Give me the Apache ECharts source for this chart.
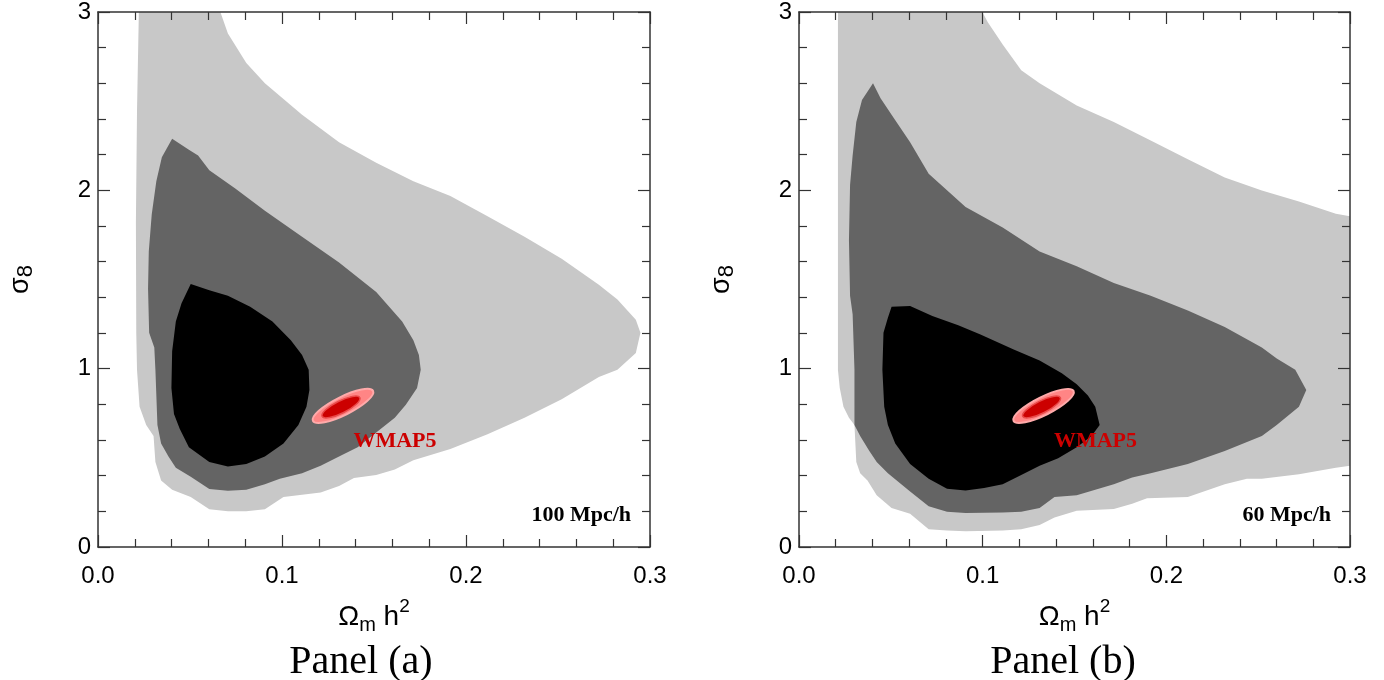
<!DOCTYPE html>
<html><head><meta charset="utf-8">
<script src="https://cdn.jsdelivr.net/npm/echarts@6/dist/echarts.min.js"></script>
<style>html,body{margin:0;padding:0;background:#fff}#c{width:1384px;height:680px}</style>
</head><body><div id="c"></div>
<script>
// ---- tick labels / text ----
const xTickLabels = ['0.0', '0.1', '0.2', '0.3'];
const yTickLabels = ['0', '1', '2', '3'];
const panelNames = ['Panel (a)', 'Panel (b)'];
const scaleLabels = ['100 Mpc/h', '60 Mpc/h'];
const wmapLabel = 'WMAP5';
const wmapLabelAt = [0.1614, 0.59];

// ---- Panel (a) contours [Omega_m h^2, sigma_8] ----
const panelA_outer = [
  [0.0222,3.0],[0.0212,2.445],[0.0206,1.823],[0.0208,1.202],[0.0212,0.994],[0.0226,0.787],
  [0.0262,0.684],[0.0302,0.622],[0.0312,0.477],[0.0343,0.373],[0.0403,0.321],[0.0504,0.280],
  [0.0605,0.211],[0.0706,0.201],[0.0806,0.201],[0.0907,0.211],[0.1008,0.280],[0.1210,0.305],
  [0.1310,0.342],[0.1391,0.387],[0.1512,0.404],[0.1613,0.435],[0.1714,0.487],[0.1915,0.549],
  [0.2117,0.632],[0.2318,0.725],[0.2520,0.829],[0.2722,0.953],[0.2823,0.994],[0.2923,1.088],
  [0.2948,1.202],[0.2923,1.274],[0.2823,1.388],[0.2722,1.471],[0.2520,1.616],[0.2318,1.740],
  [0.2117,1.854],[0.1915,1.968],[0.1714,2.051],[0.1512,2.155],[0.1310,2.269],[0.1109,2.424],
  [0.0907,2.600],[0.0806,2.714],[0.0706,2.880],[0.0665,3.0]
];
const panelA_mid = [
  [0.0403,2.289],[0.0347,2.186],[0.0317,2.051],[0.0292,1.865],[0.0276,1.657],[0.0272,1.450],
  [0.0278,1.202],[0.0306,1.119],[0.0312,0.994],[0.0323,0.684],[0.0343,0.580],[0.0383,0.508],
  [0.0423,0.445],[0.0504,0.394],[0.0605,0.325],[0.0706,0.315],[0.0806,0.321],[0.0907,0.352],
  [0.0988,0.383],[0.1109,0.414],[0.1210,0.456],[0.1310,0.508],[0.1411,0.559],[0.1512,0.642],
  [0.1613,0.725],[0.1673,0.798],[0.1734,0.891],[0.1754,0.994],[0.1744,1.077],[0.1714,1.160],
  [0.1653,1.264],[0.1512,1.430],[0.1310,1.595],[0.1109,1.740],[0.0907,1.885],[0.0746,2.010],
  [0.0605,2.113],[0.0544,2.196],[0.0494,2.227]
];
const panelA_inner = [
  [0.0504,1.475],[0.0454,1.367],[0.0423,1.264],[0.0403,1.098],[0.0399,0.891],[0.0413,0.746],
  [0.0444,0.663],[0.0494,0.559],[0.0605,0.477],[0.0706,0.452],[0.0806,0.466],[0.0907,0.508],
  [0.1008,0.580],[0.1089,0.684],[0.1133,0.787],[0.1149,0.881],[0.1145,0.994],[0.1109,1.077],
  [0.1048,1.160],[0.0948,1.264],[0.0827,1.347],[0.0706,1.409],[0.0605,1.440]
];

// ---- Panel (b) contours ----
const panelB_outer = [
  [0.0212,3.0],[0.0212,0.994],[0.0222,0.891],[0.0242,0.787],[0.0272,0.725],[0.0302,0.684],
  [0.0312,0.477],[0.0333,0.414],[0.0373,0.373],[0.0423,0.290],[0.0504,0.218],[0.0605,0.186],
  [0.0706,0.099],[0.0806,0.093],[0.0907,0.089],[0.1109,0.093],[0.1210,0.099],[0.1310,0.124],
  [0.1391,0.166],[0.1512,0.203],[0.1714,0.213],[0.1814,0.242],[0.1895,0.273],[0.2117,0.280],
  [0.2318,0.352],[0.2439,0.383],[0.2520,0.383],[0.2722,0.408],[0.2923,0.445],[0.3,0.456],
  [0.3,1.854],[0.2923,1.869],[0.2722,1.937],[0.2520,1.999],[0.2318,2.072],[0.2117,2.175],
  [0.1915,2.279],[0.1714,2.383],[0.1512,2.476],[0.1310,2.600],[0.1210,2.673],[0.1109,2.818],
  [0.1028,2.942],[0.0998,3.0]
];
const panelB_mid = [
  [0.0403,2.600],[0.0343,2.507],[0.0312,2.383],[0.0292,2.196],[0.0278,2.030],[0.0272,1.720],
  [0.0278,1.409],[0.0292,1.305],[0.0302,0.994],[0.0302,0.684],[0.0333,0.622],[0.0383,0.539],
  [0.0423,0.477],[0.0484,0.414],[0.0605,0.311],[0.0706,0.228],[0.0806,0.197],[0.0907,0.191],
  [0.1109,0.193],[0.1210,0.197],[0.1310,0.218],[0.1391,0.280],[0.1512,0.290],[0.1613,0.321],
  [0.1714,0.352],[0.1814,0.390],[0.1915,0.414],[0.2117,0.466],[0.2318,0.539],[0.2520,0.622],
  [0.2601,0.684],[0.2722,0.787],[0.2762,0.881],[0.2702,0.994],[0.2601,1.057],[0.2520,1.119],
  [0.2318,1.233],[0.2117,1.326],[0.1915,1.409],[0.1714,1.481],[0.1512,1.575],[0.1310,1.657],
  [0.1109,1.792],[0.0907,1.906],[0.0706,2.093],[0.0605,2.269],[0.0504,2.424],[0.0444,2.517]
];
const panelB_inner = [
  [0.0504,1.347],[0.0605,1.351],[0.0726,1.295],[0.0867,1.243],[0.0988,1.191],[0.1169,1.108],
  [0.1310,1.046],[0.1431,0.974],[0.1512,0.912],[0.1573,0.849],[0.1613,0.787],[0.1637,0.684],
  [0.1593,0.622],[0.1512,0.559],[0.1411,0.497],[0.1310,0.456],[0.1210,0.404],[0.1109,0.352],
  [0.1008,0.331],[0.0907,0.317],[0.0806,0.327],[0.0706,0.383],[0.0605,0.466],[0.0524,0.580],
  [0.0484,0.684],[0.0464,0.787],[0.0454,0.994],[0.0460,1.202],[0.0484,1.285]
];

// ---- WMAP5 ellipses: major-axis end points (data) ----
const wmapOuterAxis = [[0.1168,0.707],[0.1495,0.875]];
const wmapInnerAxis = [[0.1218,0.732],[0.1423,0.838]];

const C_LIGHT = '#c8c8c8', C_MID = '#646464', C_DARK = '#000000';
const AX = '#333333';
const GRIDS = [
  {left: 98, top: 12, width: 552, height: 535},
  {left: 799, top: 12, width: 551, height: 535}
];

function polySeries(pts, color, gi) {
  return {
    type: 'custom', xAxisIndex: gi * 2, yAxisIndex: gi * 2, silent: true, z: 2,
    data: pts, encode: {x: 0, y: 1},
    renderItem: function (params, api) {
      if (params.dataIndex !== 0) return null;
      return {type: 'polygon', shape: {points: pts.map(p => api.coord(p))}, style: {fill: color}};
    }
  };
}
function ellipseOf(api, ax, ratio, style) {
  const a = api.coord(ax[0]), b = api.coord(ax[1]);
  const cx = (a[0] + b[0]) / 2, cy = (a[1] + b[1]) / 2;
  const rx = Math.hypot(b[0] - a[0], b[1] - a[1]) / 2;
  const rot = Math.atan2(-(b[1] - a[1]), b[0] - a[0]);
  return {type: 'ellipse', x: cx, y: cy, rotation: rot, shape: {cx: 0, cy: 0, rx: rx, ry: rx * ratio}, style: style};
}
function wmapSeries(gi) {
  return {
    type: 'custom', xAxisIndex: gi * 2, yAxisIndex: gi * 2, silent: true, z: 5,
    data: [wmapLabelAt], encode: {x: 0, y: 1},
    renderItem: function (params, api) {
      const lp = api.coord(wmapLabelAt);
      return {type: 'group', children: [
        ellipseOf(api, wmapOuterAxis, 0.27, {fill: '#ff8585', stroke: '#ffaaaa', lineWidth: 2}),
        ellipseOf(api, wmapInnerAxis, 0.29, {fill: '#cc0000', stroke: '#e84a4a', lineWidth: 1.5}),
        {type: 'text', x: lp[0], y: lp[1], style: {text: wmapLabel, fill: '#cc0000',
          font: 'bold 22px "Liberation Serif"', align: 'center', verticalAlign: 'middle',
          textAlign: 'center', textVerticalAlign: 'middle'}}
      ]};
    }
  };
}

function xAxes(gi) {
  const base = {
    type: 'value', gridIndex: gi, min: 0, max: 0.3, interval: 0.1, z: 10,
    axisLine: {show: true, onZero: false, lineStyle: {color: AX, width: 1.5}},
    axisTick: {show: true, inside: true, length: 12, lineStyle: {color: AX, width: 1.2}},
    minorTick: {show: true, splitNumber: 5, length: 8, lineStyle: {color: AX, width: 1.2}},
    splitLine: {show: false}
  };
  return [
    Object.assign({}, base, {position: 'bottom',
      axisLabel: {margin: 17, color: '#000', fontSize: 24, fontFamily: 'Liberation Sans',
        formatter: v => xTickLabels[Math.round(v * 10)]},
      name: '{a|Ω}{s|m}{a| h}{p|2}', nameLocation: 'middle', nameGap: 50,
      nameTextStyle: {rich: {
        a: {fontSize: 28, fontFamily: 'Liberation Sans', color: '#000', verticalAlign: 'bottom', lineHeight: 34},
        s: {fontSize: 20, fontFamily: 'Liberation Sans', color: '#000', verticalAlign: 'bottom', padding: [0, 0, -4, 0], lineHeight: 34},
        p: {fontSize: 19, fontFamily: 'Liberation Sans', color: '#000', verticalAlign: 'top', lineHeight: 34}
      }}
    }),
    Object.assign({}, base, {position: 'top', axisLabel: {show: false}})
  ];
}
function yAxes(gi) {
  const base = {
    type: 'value', gridIndex: gi, min: 0, max: 3, interval: 1, z: 10,
    axisLine: {show: true, onZero: false, lineStyle: {color: AX, width: 1.5}},
    axisTick: {show: true, inside: true, length: 12, lineStyle: {color: AX, width: 1.2}},
    minorTick: {show: true, splitNumber: 5, length: 8, lineStyle: {color: AX, width: 1.2}},
    splitLine: {show: false}
  };
  return [
    Object.assign({}, base, {position: 'left',
      axisLabel: {margin: 7, color: '#000', fontSize: 24, fontFamily: 'Liberation Sans',
        formatter: v => yTickLabels[Math.round(v)]},
      name: '{a|σ}{s|8}', nameLocation: 'middle', nameGap: 64, nameRotate: 90,
      nameTextStyle: {rich: {
        a: {fontSize: 27, fontFamily: 'Liberation Sans', color: '#000', verticalAlign: 'bottom', lineHeight: 32},
        s: {fontSize: 22, fontFamily: 'Liberation Sans', color: '#000', verticalAlign: 'bottom', padding: [0, 0, -3, 0], lineHeight: 32}
      }}
    }),
    Object.assign({}, base, {position: 'right', axisLabel: {show: false}})
  ];
}

const chart = echarts.init(document.getElementById('c'), null, {renderer: 'canvas'});
chart.setOption({
  animation: false,
  backgroundColor: '#ffffff',
  grid: GRIDS,
  xAxis: [].concat(xAxes(0), xAxes(1)),
  yAxis: [].concat(yAxes(0), yAxes(1)),
  series: [
    polySeries(panelA_outer, C_LIGHT, 0),
    polySeries(panelA_mid, C_MID, 0),
    polySeries(panelA_inner, C_DARK, 0),
    wmapSeries(0),
    polySeries(panelB_outer, C_LIGHT, 1),
    polySeries(panelB_mid, C_MID, 1),
    polySeries(panelB_inner, C_DARK, 1),
    wmapSeries(1)
  ],
  graphic: [
    {type: 'text', x: 361, y: 662, style: {text: panelNames[0], fill: '#000', font: '40px "Liberation Serif"', align: 'center', verticalAlign: 'middle', textAlign: 'center', textVerticalAlign: 'middle'}},
    {type: 'text', x: 1063, y: 662, style: {text: panelNames[1], fill: '#000', font: '40px "Liberation Serif"', align: 'center', verticalAlign: 'middle', textAlign: 'center', textVerticalAlign: 'middle'}},
    {type: 'text', x: 631, y: 515, z: 20, style: {text: scaleLabels[0], fill: '#000', font: 'bold 22px "Liberation Serif"', align: 'right', verticalAlign: 'middle', textAlign: 'right', textVerticalAlign: 'middle'}},
    {type: 'text', x: 1331, y: 515, z: 20, style: {text: scaleLabels[1], fill: '#000', font: 'bold 22px "Liberation Serif"', align: 'right', verticalAlign: 'middle', textAlign: 'right', textVerticalAlign: 'middle'}}
  ]
});
</script>
</body></html>
